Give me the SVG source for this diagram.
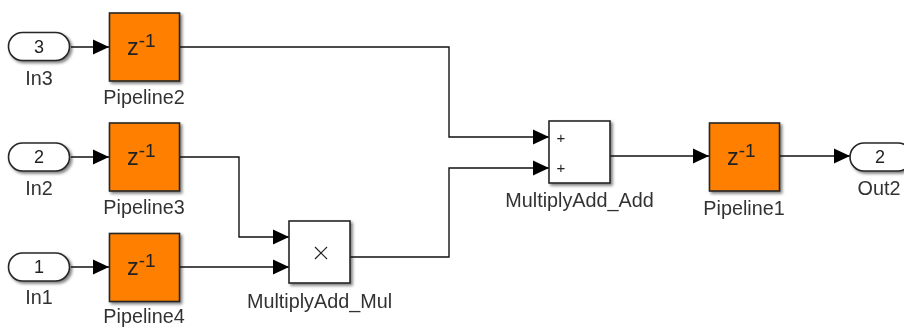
<svg xmlns="http://www.w3.org/2000/svg" width="904" height="327" viewBox="0 0 904 327">
<style>
text{font-family:"Liberation Sans",Arial,sans-serif;fill:#333;text-anchor:middle}
.lbl{font-size:19.800px}
.num{font-size:18px;fill:#222}
.z{font-size:23.500px;fill:#222;text-anchor:start}
.sup{font-size:19px}
.pipe{fill:#ff8000;stroke:#262626;stroke-width:1.6}
.blk{fill:#fff;stroke:#262626;stroke-width:1.6}
.wire{fill:none;stroke:#111;stroke-width:1.4;marker-end:url(#arr)}
.sym{font-size:15px;fill:#222}
</style>
<defs>
<marker id="arr" markerUnits="userSpaceOnUse" markerWidth="17" markerHeight="16" refX="16" refY="8" orient="auto"><path d="M0 .5L16 8L0 15.500Z" fill="#000"/></marker>
<filter id="sh" x="-20%" y="-20%" width="150%" height="150%"><feGaussianBlur in="SourceAlpha" stdDeviation="1.6"/><feOffset dx="2" dy="2"/><feComponentTransfer><feFuncA type="linear" slope="0.5"/></feComponentTransfer><feMerge><feMergeNode/><feMergeNode in="SourceGraphic"/></feMerge></filter>
<filter id="soft" x="-5%" y="-5%" width="110%" height="110%"><feGaussianBlur stdDeviation="0.5"/></filter>
</defs>
<g filter="url(#soft)">
<g id="connectors">
<path class="wire" d="M71 47H109"/>
<path class="wire" d="M71 157H109"/>
<path class="wire" d="M71 267H109"/>
<path class="wire" d="M179 47H449V137H549"/>
<path class="wire" d="M179 157H239V237H289"/>
<path class="wire" d="M179 267H289"/>
<path class="wire" d="M350 257H449V168H549"/>
<path class="wire" d="M610 156H709"/>
<path class="wire" d="M780 156H850"/>
</g>
<g id="In3"><rect class="blk" filter="url(#sh)" x="8.500" y="32.500" width="61" height="28" rx="14"/><text class="num" x="39" y="52.500">3</text><text class="lbl" x="39" y="85">In3</text></g>
<g id="In2"><rect class="blk" filter="url(#sh)" x="8.500" y="143" width="61" height="28" rx="14"/><text class="num" x="39" y="163">2</text><text class="lbl" x="39" y="195">In2</text></g>
<g id="In1"><rect class="blk" filter="url(#sh)" x="8.500" y="253" width="61" height="28" rx="14"/><text class="num" x="39" y="273">1</text><text class="lbl" x="39" y="304">In1</text></g>
<g id="Pipeline2"><rect class="pipe" filter="url(#sh)" x="109.500" y="13" width="70" height="68"/><text class="z" x="127" y="55">z<tspan class="sup" dy="-8">-1</tspan></text><text class="lbl" x="144" y="104">Pipeline2</text></g>
<g id="Pipeline3"><rect class="pipe" filter="url(#sh)" x="109.500" y="123" width="70" height="68"/><text class="z" x="127" y="165">z<tspan class="sup" dy="-8">-1</tspan></text><text class="lbl" x="144" y="214">Pipeline3</text></g>
<g id="Pipeline4"><rect class="pipe" filter="url(#sh)" x="109.500" y="233.500" width="70" height="68"/><text class="z" x="127" y="275">z<tspan class="sup" dy="-8">-1</tspan></text><text class="lbl" x="144" y="322.500">Pipeline4</text></g>
<g id="MultiplyAdd_Mul"><rect class="blk" filter="url(#sh)" x="289" y="221" width="61" height="62"/><path d="M315 247L327 259M327 247L315 259" fill="none" stroke="#222" stroke-width="1.2"/><text class="lbl" x="319.500" y="308">MultiplyAdd_Mul</text></g>
<g id="MultiplyAdd_Add"><rect class="blk" filter="url(#sh)" x="549" y="121" width="61" height="62"/><text class="sym" x="561" y="143">+</text><text class="sym" x="561" y="173">+</text><text class="lbl" x="579.500" y="207">MultiplyAdd_Add</text></g>
<g id="Pipeline1"><rect class="pipe" filter="url(#sh)" x="709.500" y="123" width="70" height="68"/><text class="z" x="727" y="165">z<tspan class="sup" dy="-8">-1</tspan></text><text class="lbl" x="744" y="215">Pipeline1</text></g>
<g id="Out2"><rect class="blk" filter="url(#sh)" x="850" y="143" width="62" height="28" rx="14"/><text class="num" x="880" y="163">2</text><text class="lbl" x="879" y="195">Out2</text></g>
</g>
</svg>
